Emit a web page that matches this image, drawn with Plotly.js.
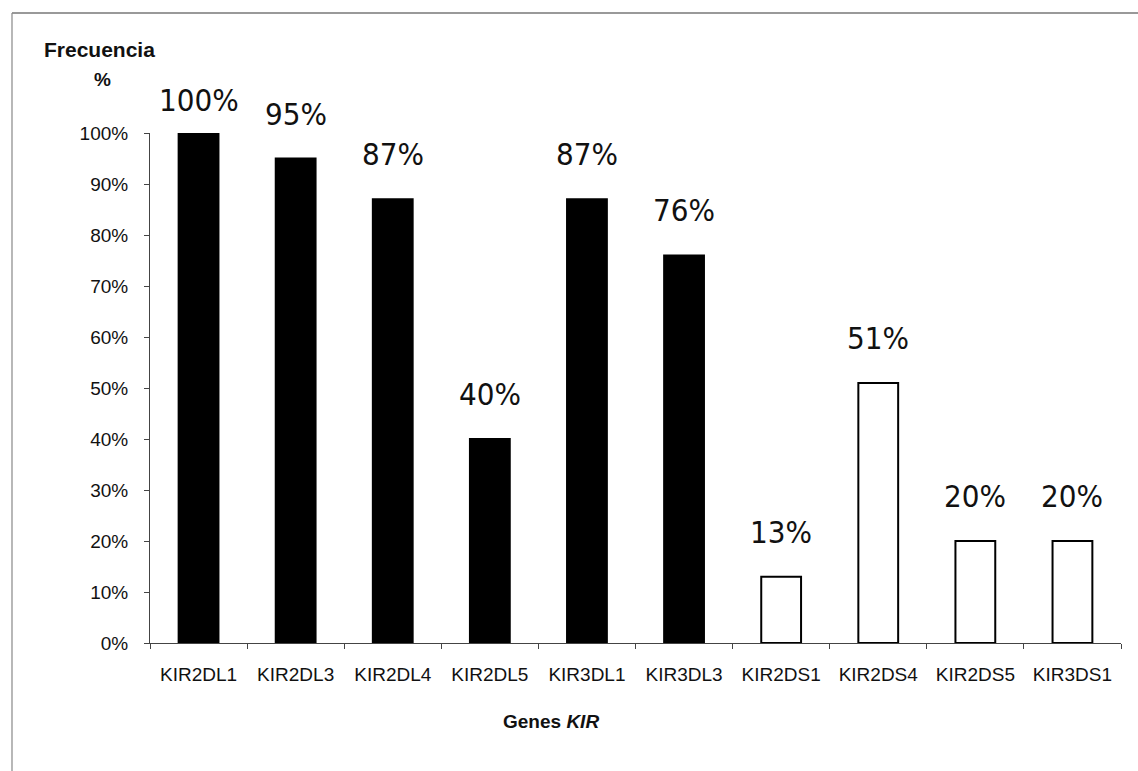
<!DOCTYPE html>
<html>
<head>
<meta charset="utf-8">
<script src="https://cdn.plot.ly/plotly-3.0.1.min.js"></script>
<style>
  html, body { margin: 0; padding: 0; background: #fff; }
  #chart { width: 1138px; height: 771px; }
</style>
</head>
<body>
<div id="chart"></div>
<script>
// KIR gene frequencies (fraction of individuals carrying each gene)
const genes = ['KIR2DL1', 'KIR2DL3', 'KIR2DL4', 'KIR2DL5', 'KIR3DL1', 'KIR3DL3',
               'KIR2DS1', 'KIR2DS4', 'KIR2DS5', 'KIR3DS1'];
const frequency = [1.00, 0.95, 0.87, 0.40, 0.87, 0.76, 0.13, 0.51, 0.20, 0.20];
// inhibitory genes are drawn solid, activating genes hollow
const geneType = ['inhibitory', 'inhibitory', 'inhibitory', 'inhibitory', 'inhibitory', 'inhibitory',
                  'activating', 'activating', 'activating', 'activating'];
const yTickValues = [0, 0.1, 0.2, 0.3, 0.4, 0.5, 0.6, 0.7, 0.8, 0.9, 1.0];

const W = 1138, H = 771;
const M = { l: 150, r: 17, t: 133, b: 128 };
const plotW = W - M.l - M.r, plotH = H - M.t - M.b;
// convert page pixels to paper coordinates for the frame and free text
const px = x => (x - M.l) / plotW;
const py = y => (H - M.b - y) / plotH;

const axisFont = { family: 'Liberation Sans, Arial, sans-serif', size: 19, color: '#111' };
const valueFont = { family: '"DejaVu Sans Condensed", "Liberation Sans Narrow", sans-serif', size: 31, color: '#111' };

const trace = {
  type: 'bar',
  x: genes,
  y: frequency,
  marker: {
    color: geneType.map(t => t === 'inhibitory' ? '#000' : '#fff'),
    line: { color: '#000', width: 2 }
  },
  hoverinfo: 'x+y'
};

// percentage labels above each bar (the full-height bar has less room above it)
const valueLabels = genes.map((g, i) => ({
  x: g, y: frequency[i], xref: 'x', yref: 'y',
  text: Math.round(frequency[i] * 100) + '%',
  showarrow: false, yanchor: 'bottom',
  yshift: frequency[i] >= 1 ? 13 : 25,
  font: valueFont
}));

const layout = {
  width: W, height: H,
  margin: M,
  paper_bgcolor: '#fff',
  plot_bgcolor: '#fff',
  showlegend: false,
  bargap: 0.59,
  xaxis: {
    type: 'category',
    showline: true, linecolor: '#444', linewidth: 1,
    ticks: 'outside', tickson: 'boundaries', ticklen: 5, tickcolor: '#444',
    ticklabelstandoff: 14,
    showgrid: false, zeroline: false,
    tickfont: axisFont
  },
  yaxis: {
    range: [0, 1],
    tickvals: yTickValues,
    tickformat: '.0%',
    showline: true, linecolor: '#444', linewidth: 1,
    ticks: 'outside', ticklen: 5, tickcolor: '#444',
    ticklabelstandoff: 12,
    showgrid: false, zeroline: false,
    tickfont: axisFont
  },
  annotations: valueLabels.concat([
    { x: px(42), y: py(50), xref: 'paper', yref: 'paper', xanchor: 'left', yanchor: 'middle',
      text: '<b>Frecuencia</b>', showarrow: false,
      font: { family: 'Liberation Sans, Arial, sans-serif', size: 21, color: '#111' } },
    { x: px(102), y: py(80), xref: 'paper', yref: 'paper', xanchor: 'center', yanchor: 'middle',
      text: '<b>%</b>', showarrow: false,
      font: { family: 'Liberation Sans, Arial, sans-serif', size: 19, color: '#111' } },
    { x: px(551), y: py(721), xref: 'paper', yref: 'paper', xanchor: 'center', yanchor: 'middle',
      text: '<b>Genes <i>KIR</i></b>', showarrow: false,
      font: { family: 'Liberation Sans, Arial, sans-serif', size: 19, color: '#111' } }
  ]),
  shapes: [
    { type: 'line', xref: 'paper', yref: 'paper', x0: px(12), x1: px(1138), y0: py(13), y1: py(13),
      line: { color: '#777', width: 1.5 } },
    { type: 'line', xref: 'paper', yref: 'paper', x0: px(12), x1: px(12), y0: py(13), y1: py(771),
      line: { color: '#888', width: 1.2 } }
  ]
};

Plotly.newPlot('chart', [trace], layout, { displayModeBar: false, staticPlot: true });
</script>
</body>
</html>
